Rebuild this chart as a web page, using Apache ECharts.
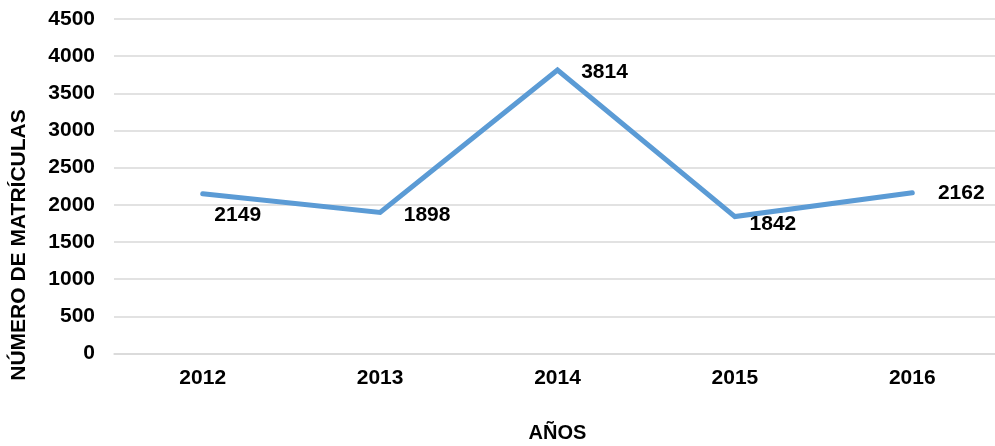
<!DOCTYPE html>
<html>
<head>
<meta charset="utf-8">
<script src="https://cdn.jsdelivr.net/npm/echarts@6/dist/echarts.min.js"></script>
<style>
  html, body { margin: 0; padding: 0; background: #fff; }
  #chart { width: 995px; height: 446px; }
</style>
</head>
<body>
<div id="chart"></div>
<script>
const years = ['2012', '2013', '2014', '2015', '2016']
const matriculas = [2149, 1898, 3814, 1842, 2162]
const yTicks = [0, 500, 1000, 1500, 2000, 2500, 3000, 3500, 4000, 4500]

// where each data label sits relative to its point (px)
const labelOffsets = [[35, 21], [47, 3], [47, 2], [38, 8], [49, 0]]

const FONT = 'Liberation Sans, Arial, sans-serif'
const chart = echarts.init(document.getElementById('chart'))

chart.setOption({
  animation: false,
  grid: { left: 114, top: 19, right: -6, bottom: 92.5, outerBoundsMode: 'none', containLabel: false },
  xAxis: {
    type: 'category',
    data: years,
    boundaryGap: true,
    name: 'AÑOS',
    nameLocation: 'middle',
    nameGap: 70,
    nameTextStyle: { color: '#000', fontWeight: 'bold', fontSize: 20, fontFamily: FONT },
    axisLine: { lineStyle: { color: '#d9d9d9', width: 1.5 } },
    axisTick: { show: false },
    axisLabel: { color: '#000', fontWeight: 'bold', fontSize: 21, fontFamily: FONT, margin: 14 }
  },
  yAxis: {
    type: 'value',
    min: yTicks[0],
    max: yTicks[yTicks.length - 1],
    interval: yTicks[1] - yTicks[0],
    axisLine: { show: false },
    axisTick: { show: false },
    splitLine: { lineStyle: { color: '#d9d9d9', width: 1.5 } },
    axisLabel: {
      color: '#000', fontWeight: 'bold', fontSize: 21, fontFamily: FONT, margin: 19,
      formatter: v => String(v)
    }
  },
  graphic: [{
    type: 'text',
    x: 19,
    y: 245,
    rotation: Math.PI / 2,
    style: {
      text: 'NÚMERO DE MATRÍCULAS',
      fill: '#000',
      font: 'bold 21px ' + FONT,
      textAlign: 'center',
      textVerticalAlign: 'middle'
    }
  }],
  series: [{
    type: 'line',
    data: matriculas.map((v, i) => ({
      value: v,
      label: { offset: labelOffsets[i] }
    })),
    symbol: 'circle',
    symbolSize: 2,
    showSymbol: true,
    itemStyle: { color: '#5b9bd5' },
    lineStyle: { color: '#5b9bd5', width: 5, cap: 'round', join: 'miter' },
    label: {
      show: true,
      position: 'inside',
      color: '#000',
      fontWeight: 'bold',
      fontSize: 21,
      fontFamily: FONT
    }
  }]
})
</script>
</body>
</html>
